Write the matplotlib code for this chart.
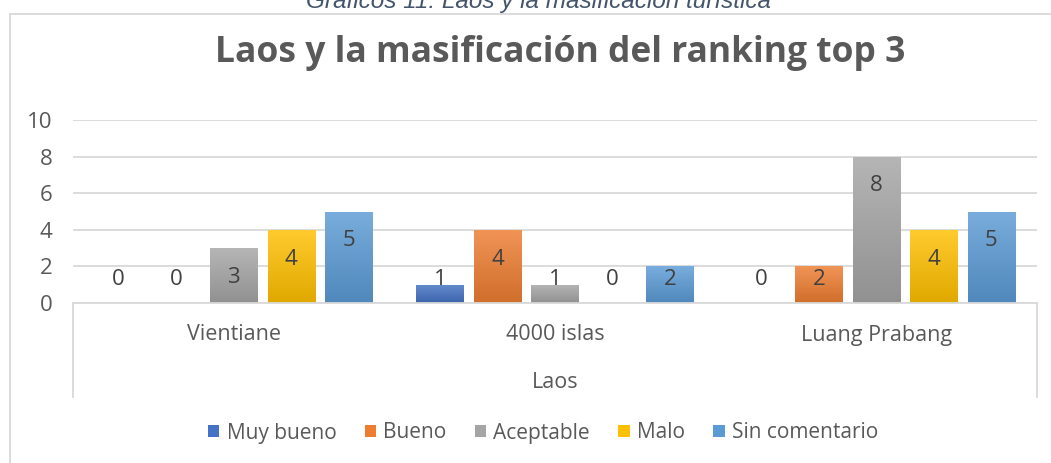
import numpy as np
import matplotlib
matplotlib.use("Agg")
import matplotlib.pyplot as plt
from matplotlib.colors import to_rgb
from matplotlib.lines import Line2D

# Datos
lugares = ["Vientiane", "4000 islas", "Luang Prabang"]
series = ["Muy bueno", "Bueno", "Aceptable", "Malo", "Sin comentario"]
muy_bueno = [0, 1, 0]
bueno = [0, 4, 2]
aceptable = [3, 1, 8]
malo = [4, 0, 4]
sin_comentario = [5, 2, 5]
colores = ["#4472C4", "#ED7D31", "#A5A5A5", "#FFC000", "#5B9BD5"]
yticks = [0, 2, 4, 6, 8, 10]

valores = [muy_bueno, bueno, aceptable, malo, sin_comentario]

W, H = 1051, 463
plt.rcParams['font.family'] = ['Open Sans', 'DejaVu Sans']
fig = plt.figure(figsize=(W / 100, H / 100), dpi=100)


def fx(px):
    return px / W


def fy(py):
    return 1 - py / H


gris_txt = "#595959"
gris_lin = "#D9D9D9"

# borde exterior del gráfico
fig.add_artist(Line2D([fx(10), fx(10)], [fy(14), 0], transform=fig.transFigure, color=gris_lin, lw=1.3))
fig.add_artist(Line2D([fx(10), 1], [fy(14), fy(14)], transform=fig.transFigure, color=gris_lin, lw=1.3))

# pie de gráfico (cortado arriba, como en el original)
fig.text(fx(539), fy(8), "Gráficos 11: Laos y la masificación turística", ha="center", va="baseline",
         fontsize=17.5, style="italic", color="#44546A", family="Liberation Sans")

fig.text(fx(560), fy(53), "Laos y la masificación del ranking top 3", ha="center", va="center",
         fontsize=25.5, fontweight="bold", color=gris_txt)

ax = fig.add_axes([fx(73), fy(303), fx(1037) - fx(73), fy(120) - fy(303)])
x = np.arange(len(lugares))
paso = 0.179
ancho = 0.147

for i, (nombre, vals, col) in enumerate(zip(series, valores, colores)):
    pos = x + (i - 2) * paso
    barras = ax.bar(pos, vals, width=ancho, color=col, label=nombre, zorder=3)
    base = np.array(to_rgb(col))
    arriba = base + (1 - base) * 0.18
    abajo = base * 0.88
    grad = np.linspace(0, 1, 64)[:, None, None]
    img = abajo * (1 - grad) + arriba * grad
    for b, v in zip(barras, vals):
        if v > 0:
            im = ax.imshow(img, extent=(b.get_x(), b.get_x() + b.get_width(), 0, v),
                           origin="lower", aspect="auto", zorder=4)
            im.set_clip_path(b)
    for p, v in zip(pos, vals):
        ax.text(p, max(v - 1.6, 1.31), str(v), ha="center", va="center",
                fontsize=16, color="#404040", zorder=5)

ax.set_xlim(-0.5, 2.5)
ax.set_ylim(0, 10)
ax.set_yticks(yticks)
ax.set_yticklabels([str(t) for t in yticks], fontsize=16, color=gris_txt)
ax.tick_params(axis="y", length=0, pad=15)
ax.set_xticks([])
ax.grid(axis="y", color=gris_lin, lw=1.3, zorder=0)
for s in ax.spines.values():
    s.set_visible(False)

# caja del eje de categorías
for xx in (73, 1037):
    fig.add_artist(Line2D([fx(xx), fx(xx)], [fy(303), fy(397)], transform=fig.transFigure, color=gris_lin, lw=1.3))
fig.add_artist(Line2D([fx(73), fx(1037)], [fy(303), fy(303)], transform=fig.transFigure, color=gris_lin, lw=1.3))

for i, lug in enumerate(lugares):
    xf = fx(73) + (i + 0.5) / 3 * (fx(1037) - fx(73))
    fig.text(xf, fy(335), lug, ha="center", va="center", fontsize=15.5, color=gris_txt)
fig.text(fx(555), fy(382), "Laos", ha="center", va="center", fontsize=15.5, color=gris_txt)

handles, labels = ax.get_legend_handles_labels()
fig.legend(handles, labels, loc="center", bbox_to_anchor=(fx(543), fy(433)), ncol=5, frameon=False,
           fontsize=15, labelcolor=gris_txt, handlelength=0.55, handleheight=0.55,
           handletextpad=0.35, columnspacing=1.35)

fig.savefig("out.png", dpi=100)
